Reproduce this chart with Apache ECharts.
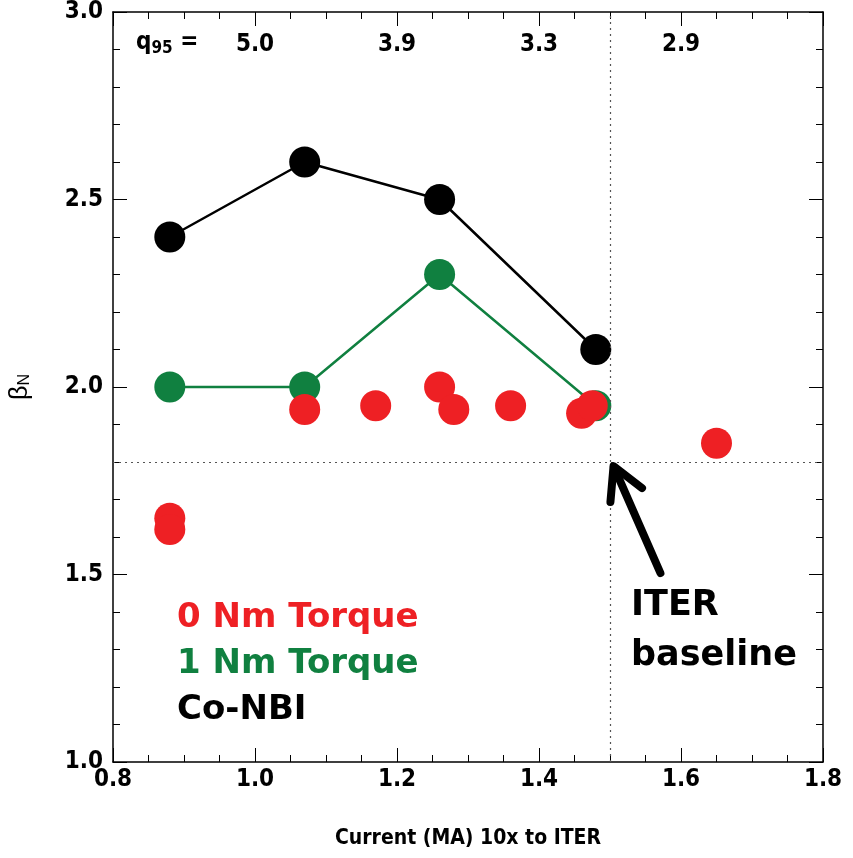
<!DOCTYPE html>
<html><head><meta charset="utf-8">
<script src="https://cdn.jsdelivr.net/npm/echarts@6/dist/echarts.min.js"></script>
<style>html,body{margin:0;padding:0;background:#fff}#c{width:853px;height:858px}</style>
</head><body><div id="c"></div>
<script>
const coNBI_x = [0.88, 1.07, 1.26, 1.48];
const coNBI_y = [2.4, 2.6, 2.5, 2.1];
const torque1_x = [0.88, 1.07, 1.26, 1.48];
const torque1_y = [2.0, 2.0, 2.3, 1.95];
const torque0_x = [0.88, 0.88, 1.07, 1.17, 1.26, 1.28, 1.36, 1.46, 1.475, 1.65];
const torque0_y = [1.65, 1.62, 1.94, 1.95, 2.0, 1.94, 1.95, 1.93, 1.95, 1.85];
const q95_x = [1.0, 1.2, 1.4, 1.6];
const q95_labels = ['5.0', '3.9', '3.3', '2.9'];
const q95_y = 2.912;
const iterCurrent = 1.5;
const iterBeta = 1.8;
const arrowFrom = [1.571, 1.504];
const arrowTo = [1.505, 1.789];

const zip = (a, b) => a.map((v, i) => [v, b[i]]);
const condensed = '"DejaVu Sans Condensed", "Liberation Sans", Arial, sans-serif';
const gothic = '"DejaVu Sans", sans-serif';

const axisCommon = {
  type: 'value',
  axisLine: { show: true, onZero: false, lineStyle: { color: '#000', width: 1.5 } },
  splitLine: { show: false },
  axisTick: { show: true, inside: true, length: 14, lineStyle: { color: '#000', width: 1 } },
  minorTick: { show: true, length: 7, lineStyle: { color: '#000', width: 1 } },
};

const chart = echarts.init(document.getElementById('c'));
chart.setOption({
  animation: false,
  grid: { left: 110, top: 12, right: 30, bottom: 96 },
  xAxis: [
    Object.assign({}, axisCommon, {
      min: 0.8, max: 1.8, interval: 0.2, position: 'bottom',
      minorTick: Object.assign({}, axisCommon.minorTick, { splitNumber: 4 }),
      axisLabel: { fontFamily: condensed, fontWeight: 'bold', fontSize: 24, color: '#000', margin: 6,
        formatter: v => v.toFixed(1) },
      name: 'Current (MA) 10x to ITER', nameLocation: 'middle', nameGap: 66,
      nameTextStyle: { fontFamily: condensed, fontWeight: 'bold', fontSize: 21, color: '#000' }
    }),
    Object.assign({}, axisCommon, {
      min: 0.8, max: 1.8, interval: 0.2, position: 'top',
      minorTick: Object.assign({}, axisCommon.minorTick, { splitNumber: 4 }),
      axisLabel: { show: false }
    })
  ],
  yAxis: [
    Object.assign({}, axisCommon, {
      min: 1.0, max: 3.0, interval: 0.5, position: 'left',
      minorTick: Object.assign({}, axisCommon.minorTick, { splitNumber: 5 }),
      axisLabel: { fontFamily: condensed, fontWeight: 'bold', fontSize: 24, color: '#000', margin: 10,
        formatter: v => v.toFixed(1) },
      name: '{b|β}{s|N}', nameLocation: 'middle', nameGap: 80, nameRotate: 90,
      nameTextStyle: { rich: {
        b: { fontFamily: '"Liberation Sans", sans-serif', fontSize: 25, color: '#000' },
        s: { fontFamily: '"Liberation Sans", sans-serif', fontSize: 16, color: '#000', verticalAlign: 'bottom', padding: [8, 0, 0, 0] }
      } }
    }),
    Object.assign({}, axisCommon, {
      min: 1.0, max: 3.0, interval: 0.5, position: 'right',
      minorTick: Object.assign({}, axisCommon.minorTick, { splitNumber: 5 }),
      axisLabel: { show: false }
    })
  ],
  series: [
    {
      type: 'line', data: [], silent: true,
      markLine: {
        silent: true, symbol: 'none', label: { show: false },
        lineStyle: { type: [2, 4], color: '#555', width: 1.2 },
        data: [{ xAxis: iterCurrent }, { yAxis: iterBeta }]
      }
    },
    {
      type: 'line', name: 'Co-NBI', data: zip(coNBI_x, coNBI_y),
      symbol: 'circle', symbolSize: 31, z: 3,
      lineStyle: { color: '#000', width: 2.5 }, itemStyle: { color: '#000' }
    },
    {
      type: 'line', name: '1 Nm Torque', data: zip(torque1_x, torque1_y),
      symbol: 'circle', symbolSize: 31, z: 4,
      lineStyle: { color: '#108040', width: 2.5 }, itemStyle: { color: '#108040' }
    },
    {
      type: 'scatter', name: '0 Nm Torque', data: zip(torque0_x, torque0_y),
      symbol: 'circle', symbolSize: 31, z: 5,
      itemStyle: { color: '#ee2024', opacity: 1 }
    },
    {
      type: 'custom', z: 6, silent: true,
      data: [[arrowFrom[0], arrowFrom[1], arrowTo[0], arrowTo[1]]],
      renderItem: (params, api) => {
        const p0 = api.coord([api.value(0), api.value(1)]);
        const p1 = api.coord([api.value(2), api.value(3)]);
        const ang = Math.atan2(p0[1] - p1[1], p0[0] - p1[0]);
        const hl = 36, spread = 0.5;
        const h1 = [p1[0] + hl * Math.cos(ang + spread), p1[1] + hl * Math.sin(ang + spread)];
        const h2 = [p1[0] + hl * Math.cos(ang - spread), p1[1] + hl * Math.sin(ang - spread)];
        const st = { stroke: '#000', lineWidth: 8, lineCap: 'round', lineJoin: 'round', fill: null };
        return { type: 'group', children: [
          { type: 'polyline', shape: { points: [p0, [p1[0] + 3 * Math.cos(ang), p1[1] + 3 * Math.sin(ang)]] }, style: st },
          { type: 'polyline', shape: { points: [h1, p1, h2] }, style: st }
        ] };
      }
    },
    {
      type: 'scatter', symbolSize: 1, silent: true, z: 7,
      itemStyle: { opacity: 0 },
      data: q95_x.map((x, i) => ({ value: [x, q95_y], name: q95_labels[i] })),
      label: { show: true, position: 'inside', formatter: p => p.name, opacity: 1,
        fontFamily: condensed, fontWeight: 'bold', fontSize: 24, color: '#000' }
    }
  ],
  graphic: [
    { type: 'text', left: 136, top: 31, style: {
      text: '{q|q}{s|95}{q| =}', rich: {
        q: { fontFamily: condensed, fontWeight: 'bold', fontSize: 24, fill: '#000' },
        s: { fontFamily: condensed, fontWeight: 'bold', fontSize: 17, fill: '#000', padding: [11, 0, 0, 0] }
      } } },
    { type: 'text', left: 177, top: 601, style: { text: '0 Nm Torque', font: 'bold 34px ' + gothic, fill: '#ee2024' } },
    { type: 'text', left: 177, top: 647, style: { text: '1 Nm Torque', font: 'bold 34px ' + gothic, fill: '#108040' } },
    { type: 'text', left: 177, top: 693, style: { text: 'Co-NBI', font: 'bold 34px ' + gothic, fill: '#000' } },
    { type: 'text', left: 631, top: 588, style: { text: 'ITER', font: 'bold 35px ' + gothic, fill: '#000' } },
    { type: 'text', left: 631, top: 638, style: { text: 'baseline', font: 'bold 35px ' + gothic, fill: '#000' } }
  ]
});
</script></body></html>
